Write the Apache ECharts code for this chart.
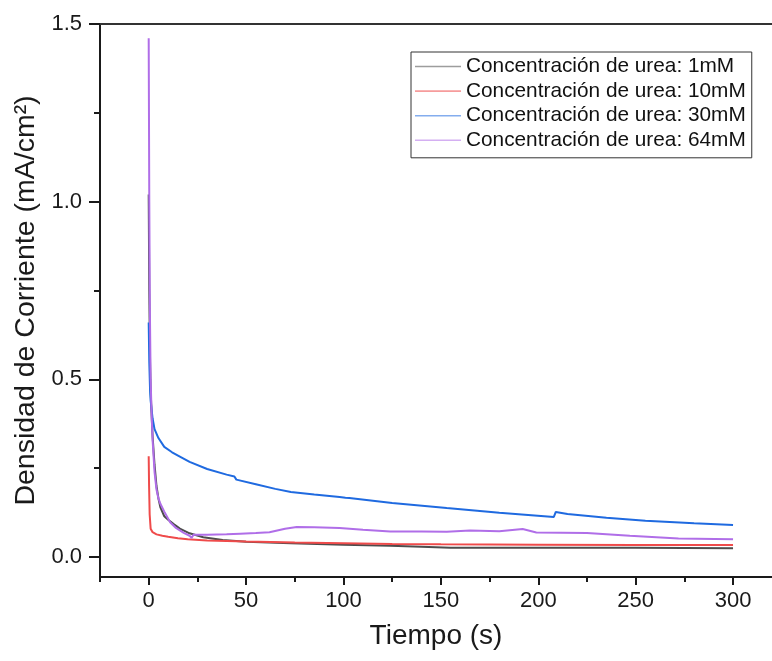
<!DOCTYPE html>
<html>
<head>
<meta charset="utf-8">
<script src="https://cdn.jsdelivr.net/npm/echarts@6/dist/echarts.min.js"></script>
<style>
  html, body { margin: 0; padding: 0; background: #fff; }
  #chart { width: 772px; height: 661px; }
</style>
</head>
<body>
<div id="chart"></div>
<script>
// nombres de las series
const seriesNames = [
  'Concentración de urea: 1mM',
  'Concentración de urea: 10mM',
  'Concentración de urea: 30mM',
  'Concentración de urea: 64mM'
]
const seriesColors = ['#4d4d4d', '#ef4b4b', '#1f6ae0', '#b06ee8']

// [tiempo (s), densidad de corriente (mA/cm2)]
const urea1mM = [
  [0, 1.02], [0.3, 0.75], [0.7, 0.55], [1, 0.47], [1.5, 0.4], [2, 0.34], [3, 0.26],
  [4, 0.2], [5, 0.165], [6, 0.14], [8, 0.115], [10, 0.105], [13, 0.092], [16, 0.08],
  [21, 0.067], [28, 0.056], [38, 0.048], [50, 0.043], [73, 0.039], [100, 0.035],
  [124, 0.032], [140, 0.029], [155, 0.026], [200, 0.026], [250, 0.026], [300, 0.025]
]
const urea10mM = [
  [0, 0.284], [0.2, 0.2], [0.5, 0.12], [1, 0.08], [2, 0.07], [4, 0.064], [7, 0.06],
  [10, 0.057], [15, 0.053], [20, 0.05], [30, 0.047], [50, 0.044], [75, 0.041],
  [100, 0.039], [125, 0.037], [150, 0.036], [200, 0.035], [250, 0.034], [300, 0.034]
]
const urea30mM = [
  [0, 0.66], [0.3, 0.55], [0.7, 0.47], [1, 0.44], [2, 0.39], [3, 0.36], [5, 0.335],
  [8, 0.31], [12, 0.295], [16, 0.283], [21, 0.268], [30, 0.248], [40, 0.232],
  [44, 0.227], [45, 0.218], [55, 0.205], [65, 0.192], [73, 0.183], [85, 0.176],
  [98, 0.169], [101, 0.167], [102, 0.172], [103, 0.166], [125, 0.152], [153, 0.138],
  [180, 0.125], [208, 0.113], [209, 0.127], [215, 0.121], [235, 0.111], [255, 0.102],
  [280, 0.095], [300, 0.09]
]
const urea64mM = [
  [0, 1.46], [0.3, 1.0], [0.6, 0.7], [1, 0.5], [1.5, 0.4], [2, 0.33], [3, 0.24],
  [4, 0.19], [5, 0.165], [6, 0.15], [8, 0.128], [11, 0.098], [14, 0.082], [18, 0.068],
  [21, 0.06], [22, 0.054], [23, 0.063], [30, 0.063], [40, 0.064], [47, 0.066],
  [55, 0.068], [62, 0.07], [70, 0.08], [76, 0.085], [85, 0.084], [98, 0.082],
  [110, 0.077], [124, 0.072], [140, 0.072], [153, 0.071], [165, 0.075], [180, 0.073],
  [192, 0.079], [199, 0.069], [225, 0.068], [247, 0.06], [272, 0.052], [300, 0.05]
]

// marcas de los ejes
const xMajorTicks = [0, 50, 100, 150, 200, 250, 300]
const xMinorTicks = [-25, 25, 75, 125, 175, 225, 275]
const yMajorTicks = [0, 0.5, 1.0, 1.5]
const yMinorTicks = [0.25, 0.75, 1.25]

const font = 'Liberation Sans, Arial, sans-serif'
const axisColor = '#1a1a1a'

let chart = echarts.init(document.getElementById('chart'))

let option = {
  animation: false,
  backgroundColor: '#fff',
  grid: { left: 100, right: -2, top: 24, bottom: 84 },
  legend: {
    orient: 'vertical',
    left: 411,
    top: 52,
    padding: [4, 6, 7, 4],
    itemGap: 3.6,
    itemWidth: 46,
    itemHeight: 1.6,
    icon: 'rect',
    borderColor: '#333',
    borderWidth: 1,
    itemStyle: { opacity: 0.55 },
    textStyle: { fontFamily: font, fontSize: 20.8, lineHeight: 20, color: '#111' },
    data: seriesNames
  },
  xAxis: [
    {
      type: 'value', min: -25, max: 320, position: 'bottom',
      name: 'Tiempo (s)', nameLocation: 'middle', nameGap: 45,
      nameTextStyle: { fontFamily: font, fontSize: 28, color: axisColor },
      axisLine: { onZero: false, lineStyle: { color: axisColor, width: 2 } },
      axisTick: { customValues: xMajorTicks, length: 8, lineStyle: { width: 2 } },
      axisLabel: { customValues: xMajorTicks, margin: 13, fontFamily: font, fontSize: 22, color: axisColor },
      splitLine: { show: false }
    },
    {
      type: 'value', min: -25, max: 320, position: 'bottom', gridIndex: 0,
      axisLine: { show: false, onZero: false },
      axisTick: { customValues: xMinorTicks, length: 5, lineStyle: { color: axisColor, width: 2 } },
      axisLabel: { show: false },
      splitLine: { show: false }
    },
    {
      type: 'value', min: -25, max: 320, position: 'top',
      axisLine: { onZero: false, lineStyle: { color: '#333', width: 2 } },
      axisTick: { show: false },
      axisLabel: { show: false },
      splitLine: { show: false }
    }
  ],
  yAxis: [
    {
      type: 'value', min: -0.056, max: 1.5, position: 'left',
      name: 'Densidad de Corriente (mA/cm²)', nameLocation: 'middle', nameGap: 57,
      nameTextStyle: { fontFamily: font, fontSize: 28.5, color: axisColor },
      axisLine: { show: true, onZero: false, lineStyle: { color: axisColor, width: 2 } },
      axisTick: { show: true, customValues: yMajorTicks, length: 11, lineStyle: { width: 2 } },
      axisLabel: {
        customValues: yMajorTicks, margin: 18, fontFamily: font, fontSize: 22, color: axisColor,
        formatter: v => v.toFixed(1)
      },
      splitLine: { show: false }
    },
    {
      type: 'value', min: -0.056, max: 1.5, position: 'left',
      axisLine: { show: false, onZero: false },
      axisTick: { show: true, customValues: yMinorTicks, length: 6, lineStyle: { color: axisColor, width: 2 } },
      axisLabel: { show: false },
      splitLine: { show: false }
    }
  ],
  series: [urea1mM, urea10mM, urea30mM, urea64mM].map((d, i) => ({
    name: seriesNames[i],
    type: 'line',
    data: d,
    showSymbol: false,
    symbol: 'none',
    color: seriesColors[i],
    lineStyle: { width: 2, color: seriesColors[i] }
  }))
}

chart.setOption(option)
</script>
</body>
</html>
